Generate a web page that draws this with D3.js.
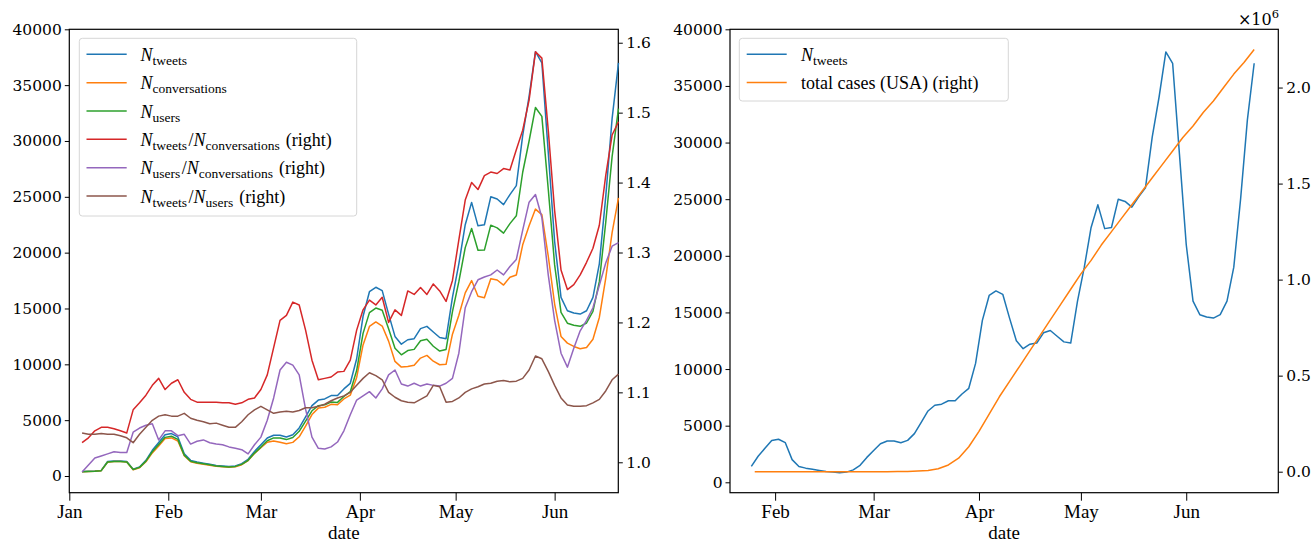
<!DOCTYPE html>
<html>
<head>
<meta charset="utf-8">
<script src="https://d3js.org/d3.v7.min.js"></script>
<style>
  body { margin: 0; background: #fff; }
  .tick text { font-family: "DejaVu Serif"; font-size: 15.5px; fill: #000; }
  .xAxis .tick text { font-family: "Liberation Serif"; font-size: 19px; }
  .tick line { stroke: #000; stroke-width: 1; }
  .domain { display: none; }
  .aText { font-family: "Liberation Serif"; font-size: 19px; fill: #000; }
  .legText { font-family: "Liberation Serif"; font-size: 18px; fill: #000; }
</style>
</head>
<body>
<div id="chart"></div>
<script>
// width and height of the figure
var width = 1314;
var height = 543;

// dates, every 2 days from Jan 5 to Jun 21
var parseDay = d3.utcParse("%Y-%m-%d");
var dates = d3.utcDay.range(parseDay("2020-01-05"), parseDay("2020-06-22"), 2);
// dates for the case counts, every 3 days from Jan 26
var caseDates = d3.utcDay.range(parseDay("2020-01-26"), parseDay("2020-06-22"), 3);

// left axis series
var tweets = [0.4, 0.42, 0.45, 0.5, 1.3, 1.35, 1.35, 1.3, 0.6, 0.8, 1.4, 2.3, 3.0, 3.7, 3.8, 3.5, 2.0, 1.4, 1.25, 1.15,
  1.05, 0.95, 0.9, 0.85, 0.9, 1.1, 1.5, 2.2, 2.8, 3.4, 3.65, 3.65, 3.5, 3.7, 4.3, 5.3, 6.3, 6.8, 6.9, 7.2,
  7.2, 7.8, 8.3, 10.5, 14.3, 16.5, 16.9, 16.6, 14.5, 12.5, 11.8, 12.2, 12.3, 13.2, 13.4, 12.9, 12.4, 12.3, 16, 19,
  22.5, 24.5, 22.4, 22.5, 25, 24.8, 24.3, 25.2, 26, 30.5, 34, 38, 37, 29, 21, 16, 14.8, 14.6, 14.5, 14.8,
  16, 19, 25, 32, 37].map(function(v) { return v * 1000; });
var conversations = [0.39, 0.41, 0.43, 0.48, 1.24, 1.29, 1.29, 1.25, 0.56, 0.74, 1.28, 2.07, 2.68, 3.35, 3.41, 3.13, 1.82, 1.28, 1.15, 1.06,
  0.97, 0.87, 0.83, 0.78, 0.83, 1.01, 1.38, 2.01, 2.54, 3.02, 3.14, 3.03, 2.89, 3.01, 3.51, 4.46, 5.5, 6.08, 6.16, 6.42,
  6.38, 6.9, 7.24, 8.83, 11.74, 13.39, 13.8, 13.43, 12.08, 10.26, 9.75, 9.8, 9.92, 10.56, 10.8, 10.28, 9.96, 10.0, 12.7, 14.4,
  16.4, 17.5, 16.1, 15.96, 17.67, 17.55, 17.1, 17.8, 18.0, 20.7, 22.4, 23.9, 23.4, 19.7, 15.4, 12.5, 11.9, 11.6, 11.4, 11.5,
  12.25, 14.2, 17.7, 21.8, 24.9].map(function(v) { return v * 1000; });
var users = [0.38, 0.4, 0.43, 0.48, 1.25, 1.3, 1.3, 1.26, 0.58, 0.77, 1.33, 2.17, 2.81, 3.46, 3.56, 3.28, 1.87, 1.32, 1.18, 1.09,
  1.0, 0.9, 0.85, 0.81, 0.86, 1.04, 1.4, 2.05, 2.59, 3.16, 3.41, 3.4, 3.26, 3.45, 4.0, 4.92, 5.84, 6.3, 6.37, 6.62,
  6.59, 7.12, 7.55, 9.46, 12.77, 14.63, 15.04, 14.85, 13.18, 11.44, 10.85, 11.23, 11.34, 12.11, 12.24, 11.62, 11.19, 11.33, 14.72, 17.4,
  20.45, 22.17, 20.22, 20.23, 22.46, 22.22, 21.75, 22.6, 23.3, 27.2, 30.0, 33.0, 32.2, 25.7, 18.9, 14.65, 13.68, 13.5, 13.4, 13.7,
  14.75, 17.4, 22.7, 28.6, 32.9].map(function(v) { return v * 1000; });

// right axis ratios
var tweetsPerConv = [1.028, 1.035, 1.045, 1.05, 1.05, 1.048, 1.045, 1.042, 1.075, 1.085, 1.096, 1.11, 1.12, 1.104, 1.113, 1.118, 1.1, 1.09, 1.086, 1.086,
  1.086, 1.086, 1.085, 1.085, 1.083, 1.085, 1.09, 1.092, 1.104, 1.125, 1.164, 1.203, 1.21, 1.229, 1.225, 1.189, 1.146, 1.118, 1.12, 1.122,
  1.129, 1.13, 1.146, 1.189, 1.218, 1.232, 1.225, 1.236, 1.2, 1.218, 1.21, 1.245, 1.24, 1.25, 1.24, 1.255, 1.245, 1.23, 1.26, 1.318,
  1.375, 1.4, 1.39, 1.41, 1.415, 1.413, 1.42, 1.418, 1.447, 1.475, 1.518, 1.587, 1.578, 1.475, 1.36, 1.275, 1.247, 1.254, 1.268, 1.286,
  1.306, 1.339, 1.41, 1.468, 1.487];
var usersPerConv = [0.986, 0.996, 1.006, 1.009, 1.012, 1.015, 1.014, 1.014, 1.043, 1.049, 1.053, 1.055, 1.032, 1.045, 1.045, 1.038, 1.04, 1.026, 1.03, 1.032,
  1.028, 1.026, 1.025, 1.022, 1.02, 1.018, 1.012, 1.025, 1.036, 1.06, 1.092, 1.132, 1.143, 1.139, 1.125, 1.076, 1.036, 1.02, 1.019, 1.022,
  1.029, 1.045, 1.068, 1.089, 1.095, 1.101, 1.092, 1.105, 1.125, 1.132, 1.112, 1.109, 1.113, 1.109, 1.112, 1.11, 1.109, 1.113, 1.12, 1.156,
  1.221, 1.244, 1.261, 1.265, 1.268, 1.275, 1.268, 1.28, 1.29, 1.332, 1.372, 1.383, 1.35, 1.268, 1.203, 1.156, 1.136, 1.163, 1.188, 1.203,
  1.221, 1.253, 1.285, 1.309, 1.314];
var tweetsPerUser = [1.042, 1.04, 1.04, 1.041, 1.04, 1.04, 1.038, 1.035, 1.028, 1.04, 1.05, 1.06, 1.066, 1.068, 1.066, 1.066, 1.07, 1.063, 1.06, 1.058,
  1.055, 1.056, 1.053, 1.05, 1.05, 1.058, 1.068, 1.075, 1.08, 1.075, 1.07, 1.072, 1.073, 1.072, 1.074, 1.078, 1.078, 1.08, 1.083, 1.088,
  1.092, 1.095, 1.1, 1.11, 1.12, 1.128, 1.124, 1.118, 1.1, 1.093, 1.088, 1.086, 1.085, 1.09, 1.095, 1.11, 1.108, 1.086, 1.087, 1.092,
  1.1, 1.105, 1.108, 1.112, 1.113, 1.116, 1.117, 1.115, 1.116, 1.12, 1.132, 1.152, 1.148, 1.13, 1.11, 1.092, 1.082, 1.08, 1.08, 1.081,
  1.085, 1.09, 1.102, 1.118, 1.126];

// total cases (USA), in millions
var totalCases = [0, 0, 0, 0, 0, 0, 0, 0, 0, 0, 0, 0, 0, 0,
  0.001, 0.001, 0.003, 0.006, 0.015, 0.035, 0.07, 0.13, 0.21, 0.3, 0.39, 0.47, 0.55, 0.63, 0.71, 0.79,
  0.87, 0.95, 1.03, 1.1, 1.18, 1.25, 1.32, 1.39, 1.46, 1.53, 1.6, 1.67, 1.74, 1.8, 1.87, 1.93, 2.0, 2.07,
  2.13, 2.198].map(function(v) { return v * 1e6; });

// tick labels
var leftTicks = [0, 5000, 10000, 15000, 20000, 25000, 30000, 35000, 40000];
var ratioTicks = [1.0, 1.1, 1.2, 1.3, 1.4, 1.5, 1.6];
var caseTicks = [0, 0.5e6, 1.0e6, 1.5e6, 2.0e6];

var colors = ["#1f77b4", "#ff7f0e", "#2ca02c", "#d62728", "#9467bd", "#8c564b"];

// plot area edges
var top_Y = 29.3;
var bot_Y = 492.7;

function dayDate(d) {
  return new Date(Date.UTC(2020, 0, 1) + d * 864e5);
}

var svg = d3
  .select("#chart")
  .append("svg")
  .attr("width", width)
  .attr("height", height);

// draws frame, ticks and "date" label for one panel
function panelFrame(x0, x1, xScale, yLeft, leftVals, yRight, rightVals, rightFmt) {
  svg
    .append("g")
    .attr("class", "xAxis")
    .attr("transform", "translate(0," + bot_Y + ")")
    .call(d3.axisBottom(xScale)
      .ticks(d3.utcMonth.every(1))
      .tickFormat(d3.utcFormat("%b"))
      .tickSize(8)
      .tickPadding(4));

  svg
    .append("g")
    .attr("transform", "translate(" + x0 + ",0)")
    .call(d3.axisLeft(yLeft).tickValues(leftVals).tickFormat(d3.format("d")).tickSize(4.5).tickPadding(3));

  svg
    .append("g")
    .attr("transform", "translate(" + x1 + ",0)")
    .call(d3.axisRight(yRight).tickValues(rightVals).tickFormat(rightFmt).tickSize(4.5).tickPadding(3.5));

  svg
    .append("rect")
    .attr("x", x0)
    .attr("y", top_Y)
    .attr("width", x1 - x0)
    .attr("height", bot_Y - top_Y)
    .attr("fill", "none")
    .attr("stroke", "#000")
    .attr("stroke-width", 1.2);

  svg
    .append("text")
    .attr("class", "aText")
    .attr("x", (x0 + x1) / 2)
    .attr("y", 539)
    .attr("text-anchor", "middle")
    .text("date");
}

function drawLine(xScale, yScale, xs, ys, color) {
  var line = d3
    .line()
    .x(function(d, i) { return xScale(xs[i]); })
    .y(function(d) { return yScale(d); });
  svg
    .append("path")
    .datum(ys)
    .attr("d", line)
    .attr("fill", "none")
    .attr("stroke", color)
    .attr("stroke-width", 1.5)
    .attr("stroke-linejoin", "round");
}

// legend label: N_a/N_b parts, italic N with roman subscript
function legendLabel(g, x, y, name, right) {
  var text = g.append("text").attr("class", "legText").attr("x", x).attr("y", y + 6.5);
  name.split("/").forEach(function(part, i) {
    if (i > 0) text.append("tspan").text("/");
    text.append("tspan").attr("font-style", "italic").text("N");
    text.append("tspan").attr("font-size", "13.5px").attr("dy", 4).text(part);
    text.append("tspan").attr("dy", -4).text("\u200a");
  });
  if (right) text.append("tspan").text(" (right)");
  return text;
}

function legendBox(x, y, w, h) {
  var g = svg.append("g");
  g.append("rect")
    .attr("x", x)
    .attr("y", y)
    .attr("width", w)
    .attr("height", h)
    .attr("rx", 3)
    .attr("fill", "#fff")
    .attr("fill-opacity", 0.8)
    .attr("stroke", "#d6d6d6")
    .attr("stroke-width", 1);
  return g;
}

// ---------------- left panel ----------------
var x_Scale = d3.scaleUtc().domain([dayDate(0), dayDate(171.94)]).range([69.3, 618.3]);
var y_Left = d3.scaleLinear().domain([-1495, 40000]).range([bot_Y, top_Y]);
var y_Ratio = d3.scaleLinear().domain([0.9565, 1.6192]).range([bot_Y, top_Y]);

panelFrame(69.3, 618.3, x_Scale, y_Left, leftTicks, y_Ratio, ratioTicks, d3.format(".1f"));

drawLine(x_Scale, y_Left, dates, tweets, colors[0]);
drawLine(x_Scale, y_Left, dates, conversations, colors[1]);
drawLine(x_Scale, y_Left, dates, users, colors[2]);
drawLine(x_Scale, y_Ratio, dates, tweetsPerConv, colors[3]);
drawLine(x_Scale, y_Ratio, dates, usersPerConv, colors[4]);
drawLine(x_Scale, y_Ratio, dates, tweetsPerUser, colors[5]);

var leftNames = ["tweets", "conversations", "users", "tweets/conversations", "users/conversations", "tweets/users"];
var legLeft = legendBox(79.3, 38.3, 277.4, 177.7);
leftNames.forEach(function(name, i) {
  var ly = 54.3 + i * 28.35;
  legLeft.append("line")
    .attr("x1", 86.5).attr("x2", 126.7)
    .attr("y1", ly).attr("y2", ly)
    .attr("stroke", colors[i])
    .attr("stroke-width", 1.5);
  legendLabel(legLeft, 140.5, ly, name, i >= 3);
});

// ---------------- right panel ----------------
var x2_Scale = d3.scaleUtc().domain([dayDate(17.72), dayDate(179.1)]).range([730, 1278.3]);
var y2_Left = d3.scaleLinear().domain([-918, 40000]).range([bot_Y, top_Y]);
var y2_Cases = d3.scaleLinear().domain([-0.1094e6, 2.3033e6]).range([bot_Y, top_Y]);

panelFrame(730, 1278.3, x2_Scale, y2_Left, leftTicks, y2_Cases, caseTicks, function(v) {
  return d3.format(".1f")(v / 1e6);
});

// tweets from Jan 25 on
var lateDates = dates.filter(function(d) { return d >= parseDay("2020-01-25"); });
var lateTweets = tweets.slice(dates.length - lateDates.length);
drawLine(x2_Scale, y2_Left, lateDates, lateTweets, colors[0]);
drawLine(x2_Scale, y2_Cases, caseDates, totalCases, colors[1]);

// offset text of the right axis
var offText = svg
  .append("text")
  .attr("x", 1279)
  .attr("y", 25)
  .attr("text-anchor", "end")
  .attr("font-family", "DejaVu Serif")
  .attr("font-size", "16px");
offText.append("tspan").text("\u00d710");
offText.append("tspan").attr("font-size", "11.5px").attr("dy", -7).text("6");

var legRight = legendBox(739.3, 38.3, 269, 62.7);
legRight.append("line")
  .attr("x1", 746.7).attr("x2", 786.7)
  .attr("y1", 54.3).attr("y2", 54.3)
  .attr("stroke", colors[0])
  .attr("stroke-width", 1.5);
legendLabel(legRight, 801, 54.3, "tweets", false);
legRight.append("line")
  .attr("x1", 746.7).attr("x2", 786.7)
  .attr("y1", 82.6).attr("y2", 82.6)
  .attr("stroke", colors[1])
  .attr("stroke-width", 1.5);
legRight
  .append("text")
  .attr("class", "legText")
  .attr("x", 801)
  .attr("y", 89)
  .text("total cases (USA) (right)");
</script>
</body>
</html>
